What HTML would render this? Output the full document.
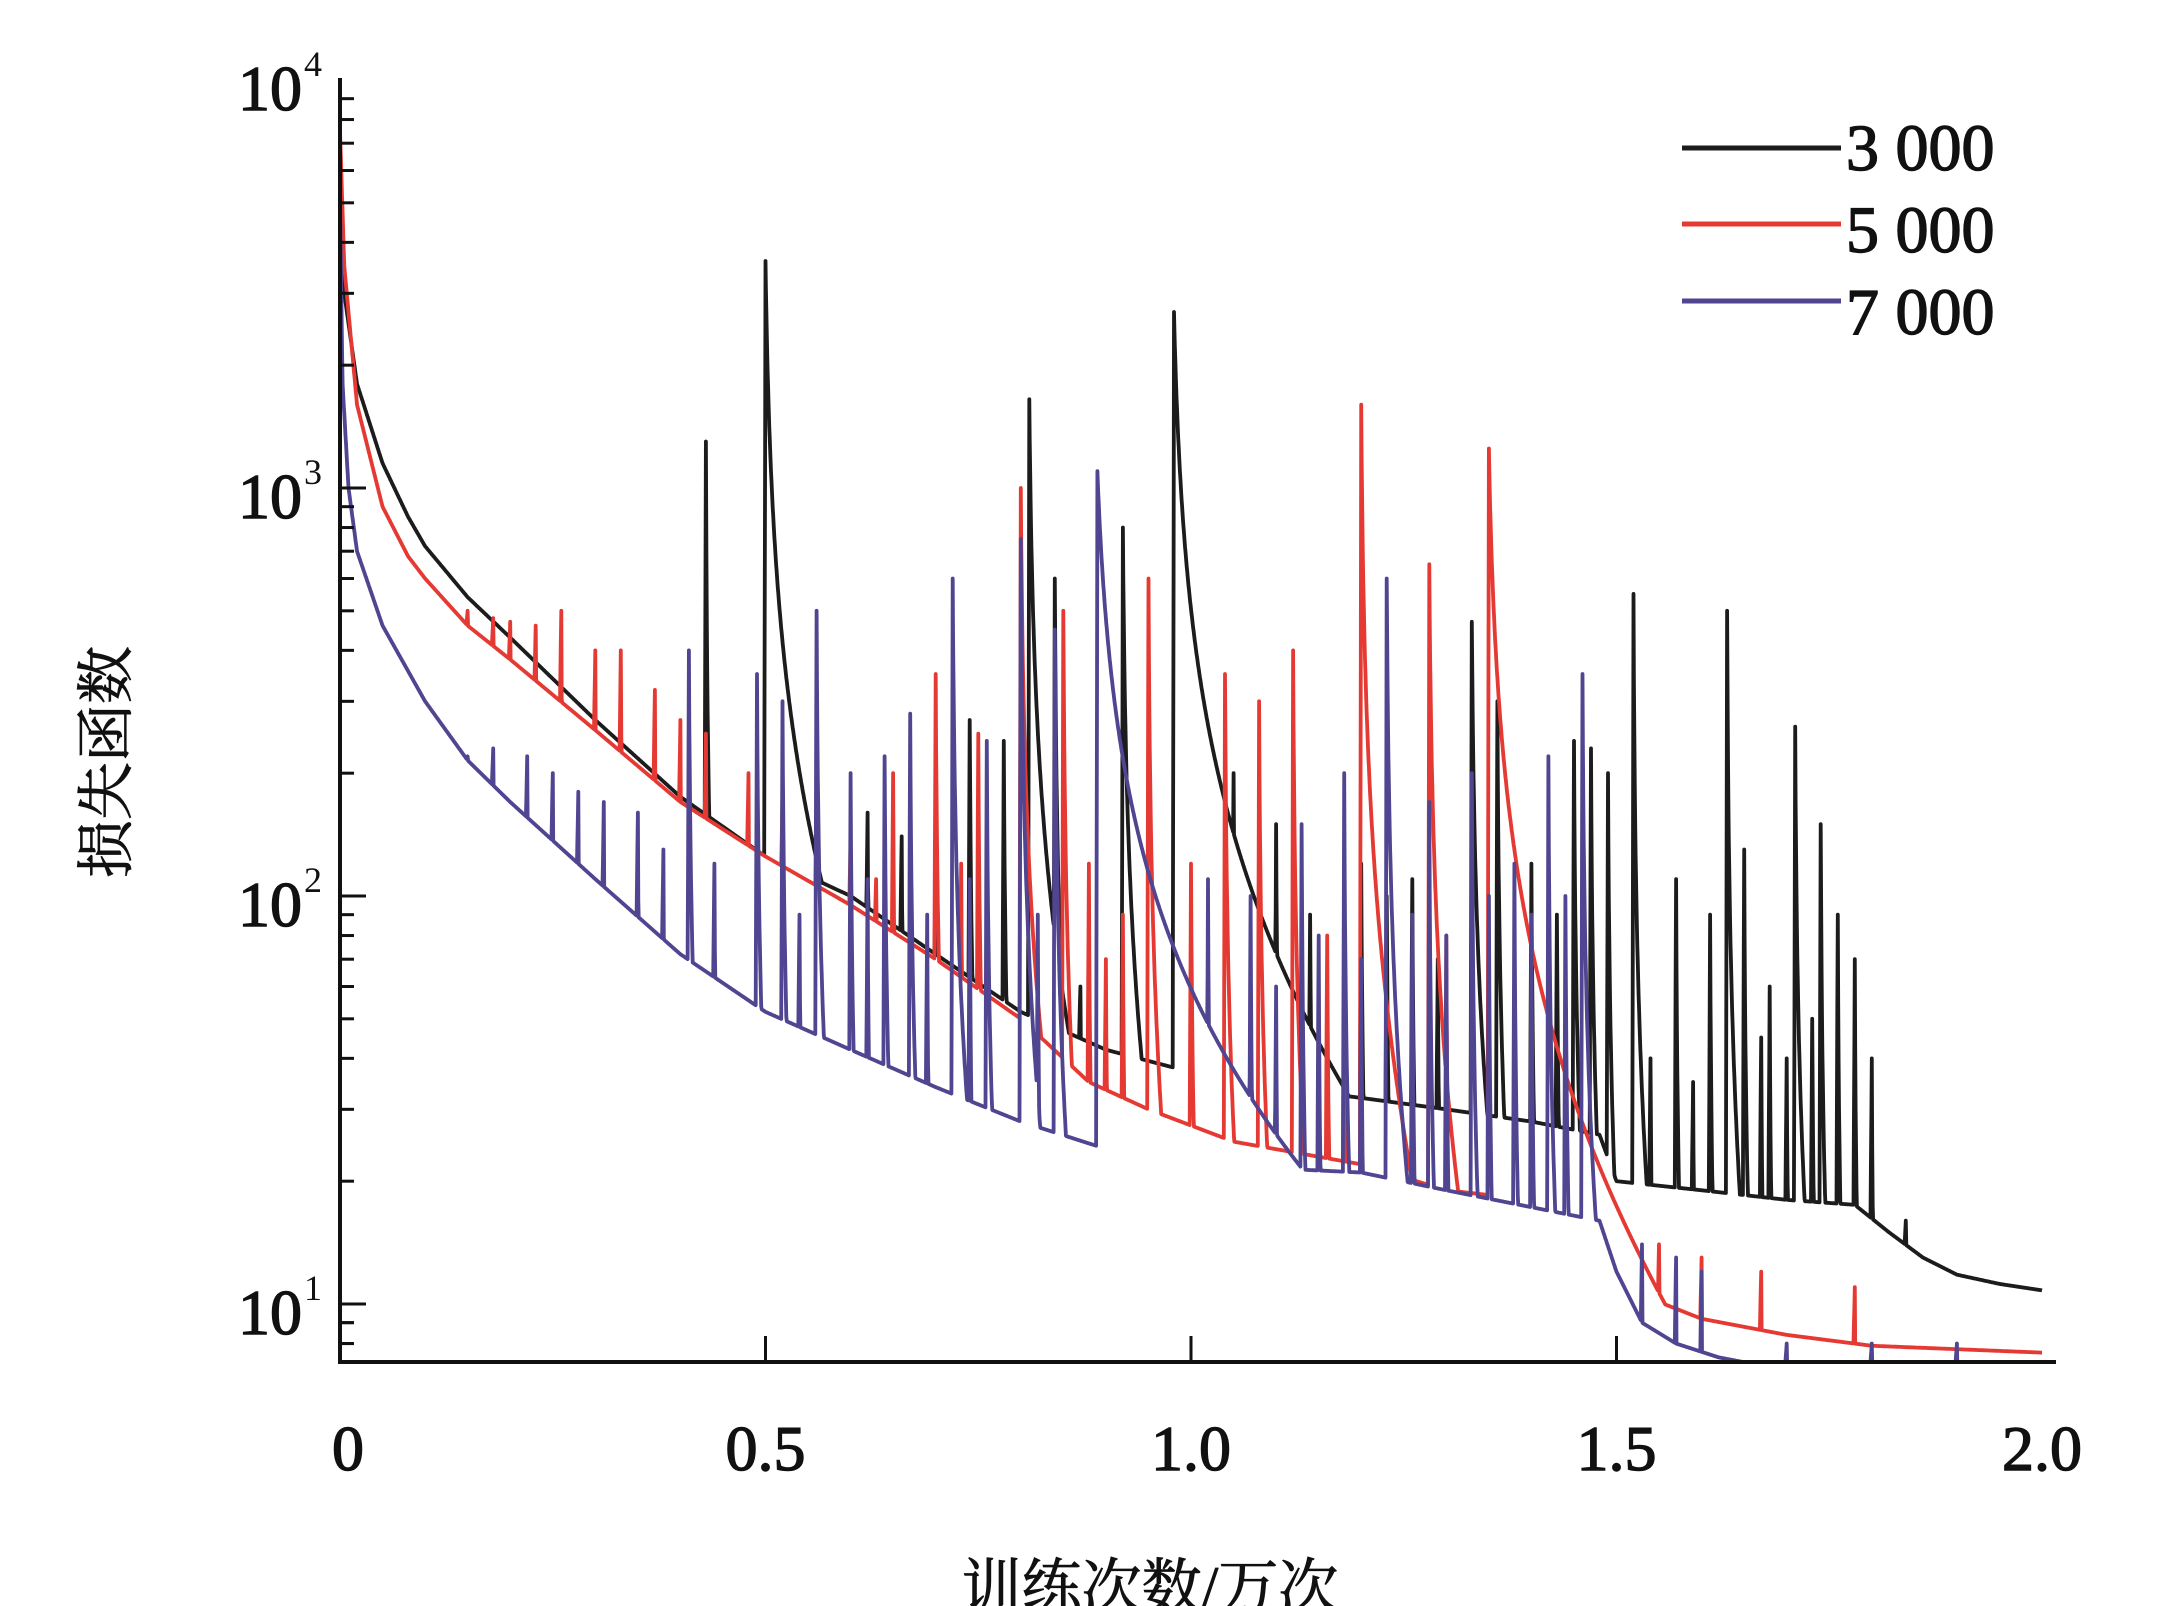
<!DOCTYPE html>
<html><head><meta charset="utf-8"><style>
html,body{margin:0;padding:0;background:#fff;}
svg{display:block;}
text{font-family:"Liberation Serif","Noto Serif CJK SC",serif;fill:#111;}
</style></head><body>
<svg id="chart" width="2171" height="1606" viewBox="0 0 2171 1606" xmlns="http://www.w3.org/2000/svg">
<defs><clipPath id="plotclip"><rect x="340" y="60" width="1720" height="1302"/></clipPath></defs>
<g id="series" clip-path="url(#plotclip)"></g>
<g id="axes"></g>
<g id="legend"></g>
<text transform="translate(126,762) rotate(-90)" text-anchor="middle" font-size="58" stroke="#111" stroke-width="0.8" style="font-family:'Noto Serif CJK SC','Noto Sans CJK SC',serif">损失函数</text>
<text x="1150" y="1608" text-anchor="middle" font-size="60" stroke="#111" stroke-width="0.8" style="font-family:'Liberation Serif','Noto Serif CJK SC',serif">训练次数/万次</text>
</svg>
<script>
// ---- data ----
const xTicks = [0, 0.5, 1.0, 1.5, 2.0];
const xTickLabels = ["0", "0.5", "1.0", "1.5", "2.0"];
const yDecades = [1, 2, 3, 4];
const seriesNames = ["3 000", "5 000", "7 000"];
const seriesColors = ["#1c1c1c", "#e53a33", "#4f4590"];
const blackBase = [[0,6000],[0.005,3000],[0.02,1800],[0.05,1150],[0.08,850],[0.1,720],[0.15,540],[0.2,430],[0.3,270],[0.4,175],[0.5,125],[0.6,100],[0.7,72],[0.8,52],[0.9,42],[1.0,37],[1.1,34],[1.2,32],[1.3,30],[1.4,28],[1.48,26],[1.5,20],[1.6,19],[1.7,18],[1.78,17.5],[1.82,15],[1.86,13],[1.9,11.8],[1.95,11.2],[2.0,10.8]];
const blackSpikes = [[0.43,1300,0.0006],[0.5,3600,0.003],[0.62,160,0.001],[0.66,140,0.001],[0.7,110,0.001],[0.74,270,0.001],[0.78,240,0.001],[0.81,1650,0.002],[0.84,600,0.001],[0.87,60,0.001],[0.92,800,0.0015],[0.98,2700,0.005],[1.05,200,0.001],[1.1,150,0.001],[1.14,90,0.001],[1.2,120,0.001],[1.23,100,0.001],[1.26,110,0.001],[1.29,70,0.001],[1.33,470,0.0015],[1.36,300,0.001],[1.4,120,0.001],[1.43,90,0.001],[1.45,240,0.001],[1.47,230,0.001],[1.49,200,0.001],[1.52,550,0.0008],[1.54,40,0.001],[1.57,110,0.0008],[1.59,35,0.001],[1.61,90,0.0008],[1.63,500,0.0008],[1.65,130,0.0008],[1.67,45,0.001],[1.68,60,0.0008],[1.7,40,0.001],[1.71,260,0.001],[1.73,50,0.001],[1.74,150,0.0008],[1.76,90,0.0008],[1.78,70,0.0008],[1.8,40,0.0008],[1.84,16,0.001]];
const redBase = [[0,7500],[0.005,3500],[0.02,1600],[0.05,900],[0.08,680],[0.1,600],[0.15,460],[0.2,380],[0.3,255],[0.4,170],[0.5,125],[0.6,95],[0.7,70],[0.8,50],[0.88,35],[0.95,30],[1.05,25],[1.2,22],[1.3,19],[1.4,18],[1.48,17.5],[1.5,13],[1.53,10.5],[1.6,9.2],[1.7,8.4],[1.8,7.9],[2.0,7.6]];
const redSpikes = [[0.12,420,0.0008],[0.15,500,0.0008],[0.18,480,0.0008],[0.2,470,0.0008],[0.23,460,0.0008],[0.26,500,0.0008],[0.3,400,0.0008],[0.33,400,0.0008],[0.37,320,0.0008],[0.4,270,0.0008],[0.43,250,0.0008],[0.48,200,0.0008],[0.52,180,0.0008],[0.56,170,0.0008],[0.6,140,0.0008],[0.63,110,0.0008],[0.65,200,0.0008],[0.7,350,0.001],[0.73,120,0.0008],[0.75,250,0.001],[0.8,1000,0.0015],[0.85,500,0.001],[0.88,120,0.0008],[0.9,70,0.001],[0.92,90,0.0008],[0.95,600,0.001],[1.0,120,0.001],[1.04,350,0.001],[1.08,300,0.001],[1.12,400,0.001],[1.16,80,0.001],[1.18,60,0.0008],[1.2,1600,0.0015],[1.28,650,0.0015],[1.3,80,0.0008],[1.35,1250,0.004],[1.55,14,0.001],[1.6,13,0.001],[1.67,12,0.001],[1.78,11,0.001]];
const blueBase = [[0,5000],[0.003,1800],[0.01,1000],[0.02,700],[0.05,460],[0.1,300],[0.15,215],[0.2,170],[0.3,110],[0.4,72],[0.5,52],[0.6,42],[0.7,34],[0.8,28],[0.9,24],[1.0,22],[1.2,21],[1.3,19],[1.48,16],[1.5,12],[1.53,9],[1.57,8],[1.62,7.4],[1.65,7.2],[2.0,7.2]];
const blueSpikes = [[0.12,250,0.0008],[0.15,220,0.0008],[0.18,230,0.0008],[0.22,220,0.0008],[0.25,200,0.0008],[0.28,180,0.0008],[0.31,170,0.0008],[0.35,160,0.0008],[0.38,130,0.0008],[0.41,400,0.001],[0.44,120,0.0008],[0.49,350,0.001],[0.52,300,0.001],[0.54,90,0.0008],[0.56,500,0.001],[0.6,200,0.001],[0.62,110,0.0008],[0.64,220,0.001],[0.67,280,0.001],[0.69,90,0.0008],[0.72,600,0.0012],[0.74,110,0.0008],[0.76,240,0.001],[0.8,750,0.0012],[0.82,90,0.0008],[0.84,450,0.001],[0.89,1100,0.008],[0.95,100,0.0008],[1.02,110,0.0008],[1.07,100,0.0008],[1.1,60,0.0008],[1.13,150,0.0008],[1.15,80,0.0008],[1.18,200,0.0008],[1.2,70,0.0008],[1.23,600,0.0012],[1.26,90,0.0008],[1.28,170,0.0008],[1.3,80,0.0008],[1.33,200,0.0008],[1.35,100,0.0008],[1.38,120,0.0008],[1.4,90,0.0008],[1.42,220,0.0008],[1.44,100,0.0008],[1.46,350,0.001],[1.53,14,0.0008],[1.57,13,0.0008],[1.6,12,0.0008],[1.7,8,0.0008],[1.8,8,0.0008],[1.9,8,0.0008]];

// ---- scales ----
const X0 = 340, X1 = 2042;
const xScale = v => X0 + (v / 2.0) * (X1 - X0);
const Y1dec = 1304, DEC = 408, YBOT = 1362;
const yScale = v => Y1dec - (Math.log10(v) - 1) * DEC;
const NS = "http://www.w3.org/2000/svg";
function mk(tag, attrs, parent){const e=document.createElementNS(NS,tag);for(const k in attrs)e.setAttribute(k,attrs[k]);parent.appendChild(e);return e;}

function baseAt(base, x){
  for(let i=0;i<base.length-1;i++){
    const a=base[i], b=base[i+1];
    if(x>=a[0]&&x<=b[0]){const t=(x-a[0])/(b[0]-a[0]);return Math.pow(10,Math.log10(a[1])+t*(Math.log10(b[1])-Math.log10(a[1])));}
  }
  return base[base.length-1][1];
}
function valueAt(base, spikes, x){
  let v = baseAt(base, x);
  for(const s of spikes){
    const [xs, pk, tau] = s;
    const r = 0.0015;
    if(x>=xs-r && x<xs){const t=(x-(xs-r))/r;const b=baseAt(base,xs);v=Math.max(v,Math.pow(10,Math.log10(b)+t*(Math.log10(pk)-Math.log10(b))));}
    else if(x>=xs){const t=x-xs;v=Math.max(v,pk/(1+t/tau)*Math.exp(-t/(60*tau)));}
  }
  return v;
}
const sg = document.getElementById('series');
const allBases=[blackBase,redBase,blueBase], allSpikes=[blackSpikes,redSpikes,blueSpikes];
const seriesKeys=["series-3000","series-5000","series-7000"];
for(const si of [0,1,2]){
  const pts=[];
  for(let i=0;i<=4000;i++){const x=i*0.0005;pts.push(xScale(x).toFixed(1)+","+yScale(valueAt(allBases[si],allSpikes[si],x)).toFixed(1));}
  const p = mk('polyline',{points:pts.join(" "),fill:"none",stroke:seriesColors[si],"stroke-width":3.8,"stroke-linejoin":"round"},sg);
  
  
}

// ---- axes ----
const ax = document.getElementById('axes');
const yl = mk('line',{x1:X0,y1:78,x2:X0,y2:YBOT+2,stroke:"#111","stroke-width":4},ax);
 
const xl = mk('line',{x1:X0-2,y1:YBOT,x2:X1+14,y2:YBOT,stroke:"#111","stroke-width":4},ax);
 
for(let i=0;i<xTicks.length;i++){
  const x=xScale(xTicks[i]);
  if(i>0 && i<xTicks.length-1){const t=mk('line',{x1:x,y1:YBOT,x2:x,y2:YBOT-26,stroke:"#111","stroke-width":3},ax);
     }
  const lb=mk('text',{x:x+(i==0?8:0),y:1470,"text-anchor":"middle","font-size":64,stroke:"#111","stroke-width":1.4},ax);
  lb.textContent=xTickLabels[i];
   
}
for(let d=0; d<=3; d++){
  for(let m=1;m<=9;m++){
    const y=yScale(Math.pow(10,d+1)*m/10*10/10);
    if(y<75||y>YBOT) continue;
    const len = m==1?26:14;
    const t=mk('line',{x1:X0,y1:y,x2:X0+len,y2:y,stroke:"#111","stroke-width":3},ax);
     
  }
}
for(const m of [7,8,9]){
  const y=yScale(m);
  if(y>YBOT-2) continue;
  const t=mk('line',{x1:X0,y1:y,x2:X0+14,y2:y,stroke:"#111","stroke-width":3},ax);
   
}
for(const d of yDecades){
  const y=yScale(Math.pow(10,d));
  const lb=mk('text',{x:302,y:y+30,"text-anchor":"end","font-size":64,stroke:"#111","stroke-width":1.4},ax);
  lb.textContent="10";
   
  const sp=mk('text',{x:304,y:y-4,"font-size":36},ax);
  sp.textContent=String(d);
   
}
// ---- legend ----
const lg=document.getElementById('legend');
const legY=[148,224,301];
const legTextY=[170,252,334];
for(let i=0;i<3;i++){
  const l=mk('line',{x1:1682,y1:legY[i],x2:1841,y2:legY[i],stroke:seriesColors[i],"stroke-width":5},lg);
   
  const t=mk('text',{x:1846,y:legTextY[i],"font-size":66,stroke:"#111","stroke-width":1.4},lg);
  t.textContent=seriesNames[i];
   
}
</script>
</body></html>
